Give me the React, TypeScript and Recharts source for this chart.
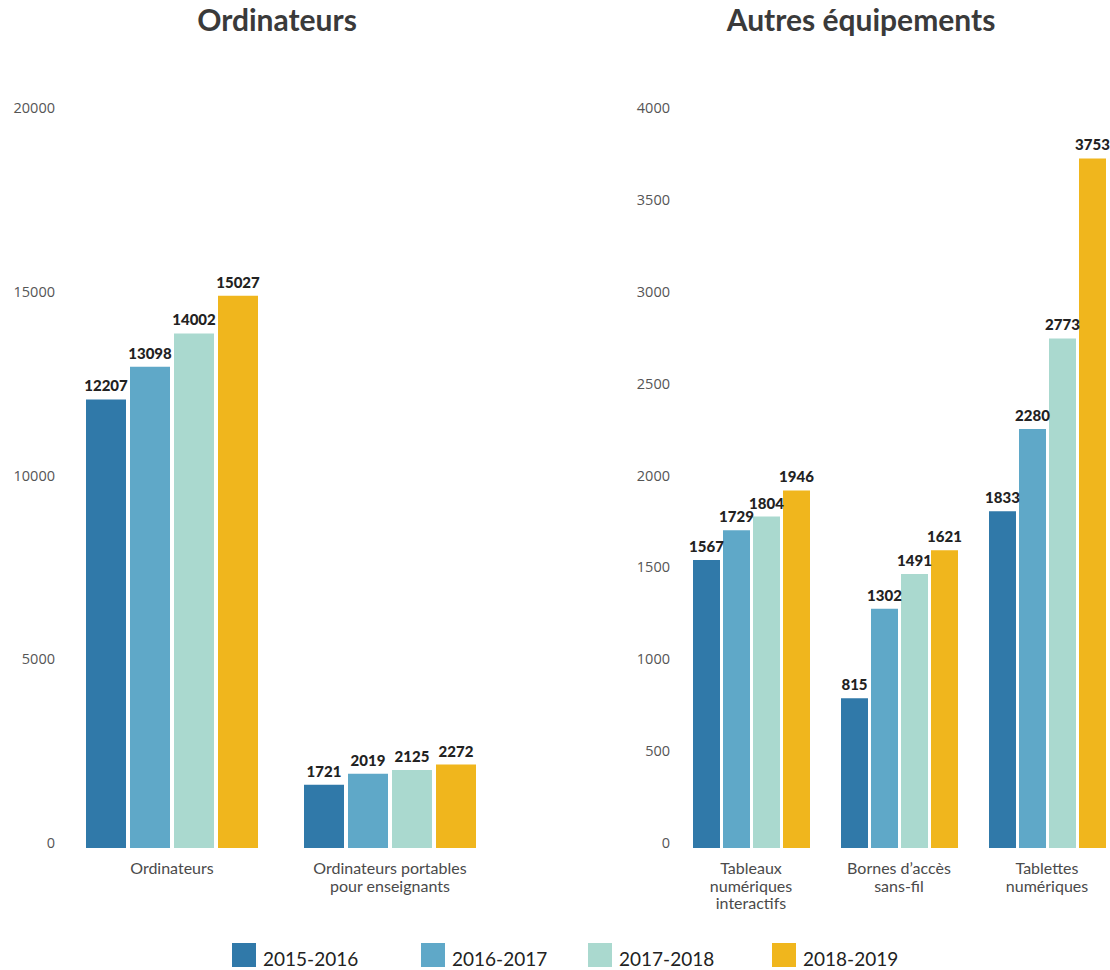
import React from "react";
import { BarChart, Bar, XAxis, YAxis, LabelList } from "recharts";

const SERIES = ["2015-2016", "2016-2017", "2017-2018", "2018-2019"];
const COLORS = ["#3079a9", "#5fa8c8", "#aad9cf", "#f0b61d"];

const leftCategories = ["Ordinateurs", "Ordinateurs portables\npour enseignants"];
const left2015 = [12207, 1721];
const left2016 = [13098, 2019];
const left2017 = [14002, 2125];
const left2018 = [15027, 2272];
const leftTicks = [0, 5000, 10000, 15000, 20000];

const rightCategories = [
  "Tableaux\nnumériques\ninteractifs",
  "Bornes d’accès\nsans-fil",
  "Tablettes\nnumériques",
];
const right2015 = [1567, 815, 1833];
const right2016 = [1729, 1302, 2280];
const right2017 = [1804, 1491, 2773];
const right2018 = [1946, 1621, 3753];
const rightTicks = [0, 500, 1000, 1500, 2000, 2500, 3000, 3500, 4000];

const buildRows = (cats: string[], a: number[], b: number[], c: number[], d: number[]) =>
  cats.map((name, i) => ({ name, s0: a[i], s1: b[i], s2: c[i], s3: d[i] }));

const leftData = buildRows(leftCategories, left2015, left2016, left2017, left2018);
const rightData = buildRows(rightCategories, right2015, right2016, right2017, right2018);

const CatTick = (props: any) => {
  const { x, y, payload } = props;
  const lines = String(payload.value).split("\n");
  return (
    <text
      x={x}
      y={y}
      textAnchor="middle"
      fill="#4a4a4a"
      fontFamily="Lato, sans-serif"
      fontSize={16}
    >
      {lines.map((l: string, i: number) => (
        <tspan key={i} x={x} dy={i === 0 ? 26 : 17.5}>
          {l}
        </tspan>
      ))}
    </text>
  );
};

const ValTick = (props: any) => {
  const { x, y, payload } = props;
  return (
    <text
      x={x}
      y={y - 5}
      dy={5}
      textAnchor="end"
      fill="#555"
      fontFamily="'Open Sans', sans-serif"
      fontSize={14.5}
    >
      {payload.value}
    </text>
  );
};

const labelStyle = {
  fill: "#222",
  fontFamily: "Lato, sans-serif",
  fontWeight: 900,
  fontSize: 15,
};

const renderBars = (size: number) =>
  SERIES.map((s, i) => (
    <Bar key={s} dataKey={`s${i}`} name={s} fill={COLORS[i]} barSize={size} isAnimationActive={false}>
      <LabelList dataKey={`s${i}`} position="top" offset={8} style={labelStyle} />
    </Bar>
  ));

const titleStyle: React.CSSProperties = {
  position: "absolute",
  top: 1,
  fontFamily: "Lato, sans-serif",
  fontWeight: 700,
  fontSize: 30,
  color: "#3a3a3a",
  whiteSpace: "nowrap",
  transform: "translateX(-50%)",
};

const legendX = [232, 421, 588, 772];

export default function App() {
  return (
    <div
      style={{
        position: "absolute",
        left: 0,
        top: 0,
        width: 1110,
        height: 970,
        overflow: "hidden",
        background: "#fff",
      }}
    >
      <div style={{ ...titleStyle, left: 277 }}>Ordinateurs</div>
      <div style={{ ...titleStyle, left: 861 }}>Autres équipements</div>

      <div style={{ position: "absolute", left: 0, top: 0 }}>
        <BarChart
          width={520}
          height={930}
          data={leftData}
          margin={{ top: 113, right: 21, bottom: 0, left: 0 }}
          barGap={4}
        >
          <XAxis
            dataKey="name"
            interval={0}
            axisLine={false}
            tickLine={false}
            tickSize={0}
            tickMargin={0}
            height={82}
            tick={<CatTick />}
          />
          <YAxis
            width={63}
            domain={[0, 20000]}
            ticks={leftTicks}
            axisLine={false}
            tickLine={false}
            tickSize={0}
            tickMargin={8}
            tick={<ValTick />}
          />
          {renderBars(40)}
        </BarChart>
      </div>

      <div style={{ position: "absolute", left: 600, top: 0 }}>
        <BarChart
          width={521}
          height={930}
          data={rightData}
          margin={{ top: 113, right: 0, bottom: 0, left: 0 }}
          barGap={3}
        >
          <XAxis
            dataKey="name"
            interval={0}
            axisLine={false}
            tickLine={false}
            tickSize={0}
            tickMargin={0}
            height={82}
            tick={<CatTick />}
          />
          <YAxis
            width={77}
            domain={[0, 4000]}
            ticks={rightTicks}
            axisLine={false}
            tickLine={false}
            tickSize={0}
            tickMargin={7}
            tick={<ValTick />}
          />
          {renderBars(27)}
        </BarChart>
      </div>

      {SERIES.map((s, i) => (
        <div
          key={s}
          style={{
            position: "absolute",
            left: legendX[i],
            top: 943,
            display: "flex",
            alignItems: "center",
            whiteSpace: "nowrap",
          }}
        >
          <div style={{ width: 24, height: 24, background: COLORS[i] }} />
          <span
            style={{
              marginLeft: 7,
              fontFamily: "Lato, sans-serif",
              fontSize: 19,
              color: "#222",
              position: "relative",
              top: 3,
            }}
          >
            {s}
          </span>
        </div>
      ))}
    </div>
  );
}
